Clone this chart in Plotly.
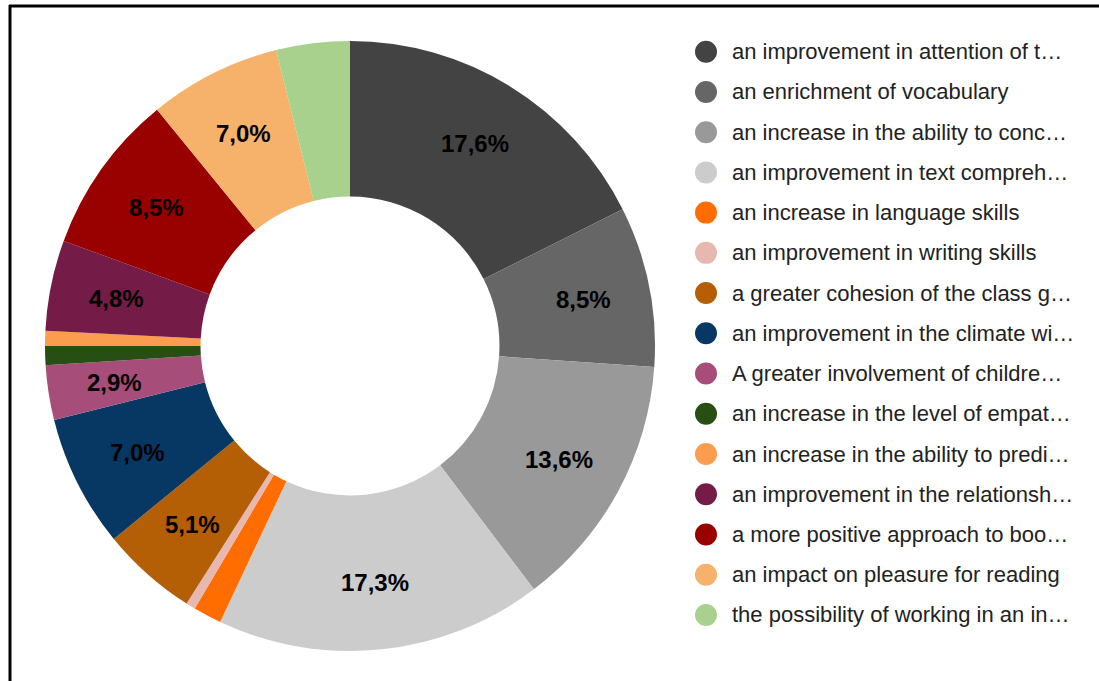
import math
import plotly.graph_objects as go

labels = [
    "an improvement in attention of t…",
    "an enrichment of vocabulary",
    "an increase in the ability to conc…",
    "an improvement in text compreh…",
    "an increase in language skills",
    "an improvement in writing skills",
    "a greater cohesion of the class g…",
    "an improvement in the climate wi…",
    "A greater involvement of childre…",
    "an increase in the level of empat…",
    "an increase in the ability to predi…",
    "an improvement in the relationsh…",
    "a more positive approach to boo…",
    "an impact on pleasure for reading",
    "the possibility of working in an in…",
]
values = [17.6, 8.5, 13.6, 17.3, 1.5, 0.5, 5.1, 7.0, 2.9, 1.0, 0.8, 4.8, 8.5, 7.0, 3.9]
colors = [
    "#434343", "#666666", "#999999", "#cccccc", "#ff6d01",
    "#e6b8af", "#b45f06", "#073763", "#a64d79", "#274e13",
    "#fb9c4f", "#741b47", "#990000", "#f6b26b", "#a8d18d",
]
# which slices carry a percentage label (those where the label fits)
show_label = [True, True, True, True, False, False, True, True, True, False, False, True, True, True, False]

W, H = 1099, 681
# pie geometry (pixels)
PX0, PX1, PY0, PY1 = 45, 655, 30, 640   # domain in px (y from bottom)
CX = (PX0 + PX1) / 2
CY_TOP = H - (PY0 + PY1) / 2
R_OUT = (PX1 - PX0) / 2
HOLE = 0.49
R_LABEL = 238

total = sum(values)

fig = go.Figure()
fig.add_trace(go.Pie(
    labels=labels,
    values=values,
    textinfo="none",
    marker=dict(colors=colors, line=dict(width=0)),
    hole=HOLE,
    sort=False,
    direction="clockwise",
    rotation=0,
    showlegend=False,
    hoverinfo="skip",
    domain=dict(x=[PX0 / W, PX1 / W], y=[PY0 / H, PY1 / H]),
))

shapes = []
annotations = []
# border (top and left edges)
shapes.append(dict(type="line", xref="paper", yref="paper", x0=9 / W, x1=1.0, y0=1 - 6 / H, y1=1 - 6 / H,
                   line=dict(color="#000000", width=3)))
shapes.append(dict(type="line", xref="paper", yref="paper", x0=10 / W, x1=10 / W, y0=1 - 5 / H, y1=0,
                   line=dict(color="#000000", width=3)))

# slice percentage labels, placed at the middle angle of each slice
cum = 0.0
for v, show in zip(values, show_label):
    mid = (cum + v / 2) / total * 2 * math.pi
    cum += v
    if not show:
        continue
    px = CX + R_LABEL * math.sin(mid)
    py = CY_TOP - R_LABEL * math.cos(mid)
    annotations.append(dict(
        text=f"{v / total * 100:.1f}%".replace(".", ","),
        xref="paper", yref="paper", x=px / W, y=1 - py / H,
        xanchor="center", yanchor="middle", showarrow=False,
        font=dict(family="Liberation Sans, Arial", size=24, color="#000000", weight="bold"),
    ))

# legend
row0, step, cx, r, tx = 51.7, 40.23, 706, 11, 730
for i, (lab, col) in enumerate(zip(labels, colors)):
    cy = row0 + i * step
    shapes.append(dict(type="circle", xref="paper", yref="paper",
                       x0=(cx - r) / W, x1=(cx + r) / W, y0=1 - (cy + r) / H, y1=1 - (cy - r) / H,
                       fillcolor=col, line=dict(width=0)))
    annotations.append(dict(text=lab, xref="paper", yref="paper", x=tx / W, y=1 - cy / H,
                            xanchor="left", yanchor="middle", showarrow=False,
                            font=dict(family="Liberation Sans, Arial", size=22, color="#222222")))

fig.update_layout(
    width=W, height=H,
    margin=dict(l=0, r=0, t=0, b=0),
    paper_bgcolor="#ffffff",
    plot_bgcolor="#ffffff",
    separators=",.",
    shapes=shapes,
    annotations=annotations,
)

fig.write_html("out.html")
